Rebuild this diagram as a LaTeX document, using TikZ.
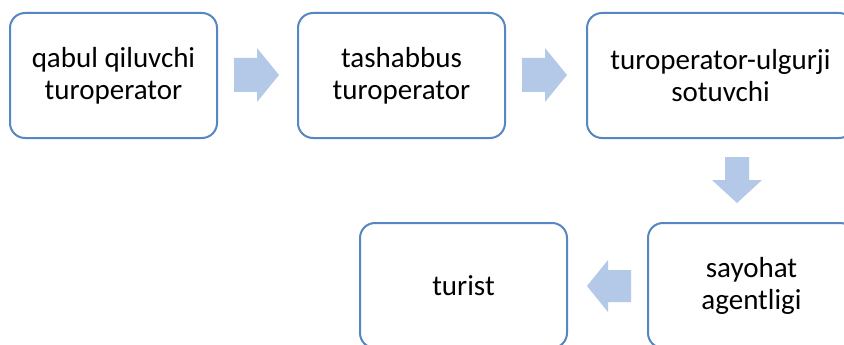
\documentclass[tikz,border=0pt]{standalone}
\usepackage{fontspec}
\setmainfont{Carlito}
\definecolor{boxline}{RGB}{86,135,194}
\definecolor{arrowfill}{RGB}{180,200,231}
\tikzset{
  stepbox/.style={draw=boxline, line width=2pt, rounded corners=15pt, fill=white,
    minimum width=207pt, minimum height=125pt, inner sep=0pt, align=center,
    font=\fontsize{29}{32}\selectfont, text=black},
  widebox/.style={stepbox, minimum width=267pt},
  flowarrow/.style={fill=arrowfill, draw=none}
}
\begin{document}
\begin{tikzpicture}[x=1pt,y=-1pt]
  \useasboundingbox (0,0) rectangle (844,345);
  \clip (0,0) rectangle (844,345);
  \fill[white] (0,0) rectangle (844,345);

  % top row
  \node[stepbox] (qabul) at (113.5,75.5) {qabul qiluvchi\\turoperator};
  \node[stepbox] (tash) at (401.5,75.5) {tashabbus\\turoperator};
  \node[widebox] (ulgurji) at (720.5,75.5) {turoperator-ulgurji\\sotuvchi};
  % bottom row
  \node[stepbox] (agent) at (751.5,285.5) {sayohat\\agentligi};
  \node[stepbox] (turist) at (463.5,285.5) {turist};

  % block arrows between the boxes
  \fill[flowarrow] (234,58) -- (257,58) -- (257,48) -- (279,75) -- (257,102)
    -- (257,92) -- (234,92) -- cycle;
  \fill[flowarrow] (522,58) -- (545,58) -- (545,48) -- (567,75) -- (545,102)
    -- (545,92) -- (522,92) -- cycle;
  \fill[flowarrow] (725,157) -- (749,157) -- (749,180) -- (762,180) -- (737,203)
    -- (712,180) -- (725,180) -- cycle;
  \fill[flowarrow] (631,270) -- (608,270) -- (608,260) -- (587,286) -- (608,312)
    -- (608,302) -- (631,302) -- cycle;
\end{tikzpicture}
\end{document}
